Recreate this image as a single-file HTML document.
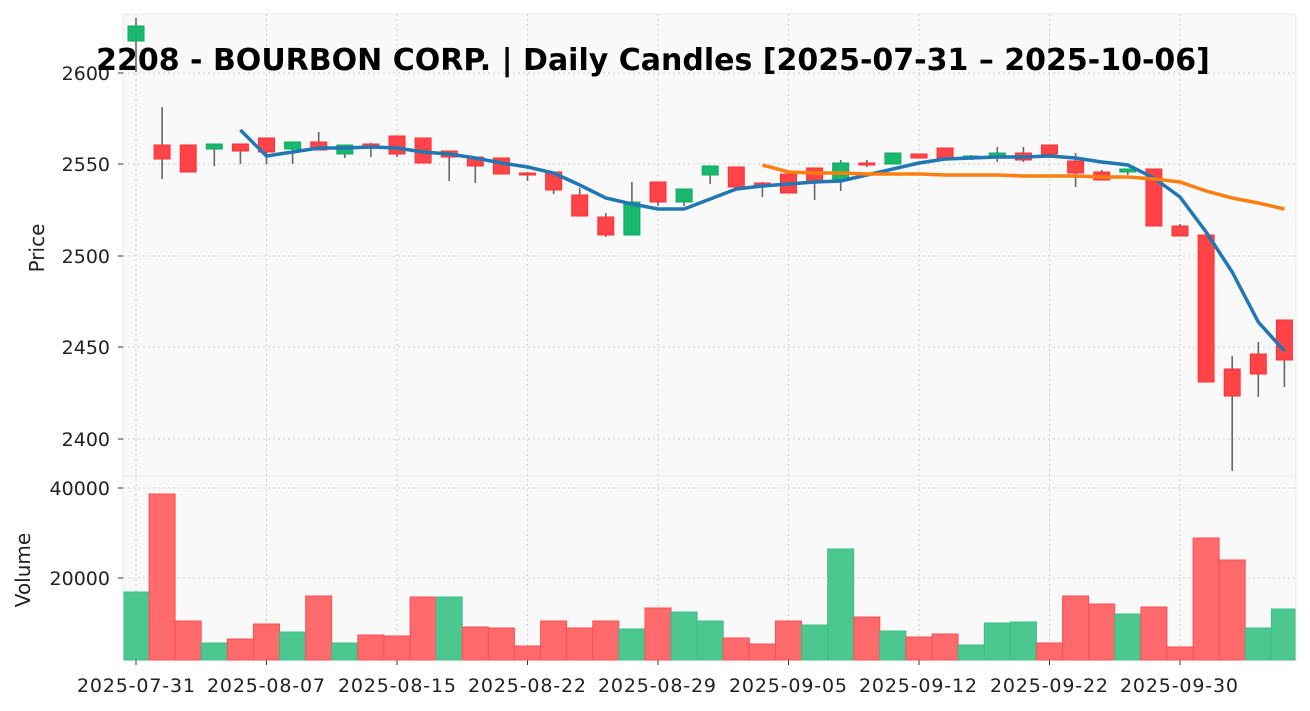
<!DOCTYPE html>
<html><head><meta charset="utf-8"><style>
html,body{margin:0;padding:0;background:#fff}
svg{display:block;font-family:"DejaVu Sans","Liberation Sans",sans-serif}
</style></head><body>
<svg id="s" width="1310" height="711" xmlns="http://www.w3.org/2000/svg">
<rect x="0" y="0" width="1310" height="711" fill="#fff"/>
<rect x="123" y="14" width="1173" height="462" fill="#f9f9f9" stroke="#ebebeb"/>
<rect x="123" y="476" width="1173" height="184" fill="#f9f9f9" stroke="#ebebeb"/>
<g id="grid" stroke="#cfcfcf" stroke-dasharray="2,3" stroke-width="1"></g>
<g id="vol"></g>
<g id="cdl"></g>
<polyline id="ma1" fill="none" stroke="#1f77b4" stroke-width="3.5"/>
<polyline id="ma2" fill="none" stroke="#ff7f0e" stroke-width="3.5"/>
<g font-size="19" fill="#222" text-anchor="end">
<text x="110" y="80">2600</text><text x="110" y="171">2550</text><text x="110" y="263">2500</text><text x="110" y="354">2450</text><text x="110" y="446">2400</text>
<text x="110" y="495">40000</text><text x="110" y="585">20000</text>
</g>
<g font-size="19" fill="#222" text-anchor="middle">
<text x="136" y="692" textLength="118">2025-07-31</text><text x="266" y="692" textLength="118">2025-08-07</text><text x="397" y="692" textLength="118">2025-08-15</text><text x="527" y="692" textLength="118">2025-08-22</text><text x="657" y="692" textLength="118">2025-08-29</text><text x="788" y="692" textLength="118">2025-09-05</text><text x="918" y="692" textLength="118">2025-09-12</text><text x="1049" y="692" textLength="118">2025-09-22</text><text x="1179" y="692" textLength="118">2025-09-30</text>
</g>
<text x="44" y="248" font-size="20" fill="#222" text-anchor="middle" transform="rotate(-90 44 248)">Price</text>
<text x="30" y="570" font-size="20" fill="#222" text-anchor="middle" transform="rotate(-90 30 570)">Volume</text>
<text x="653" y="70" font-size="30" font-weight="bold" fill="#000" text-anchor="middle">2208 - BOURBON CORP. | Daily Candles [2025-07-31 – 2025-10-06]</text>
</svg>
<script>
var X=function(i){return 136+26.1*i};
var ns="http://www.w3.org/2000/svg";
function el(p,t,a){var e=document.createElementNS(ns,t);for(var k in a)e.setAttribute(k,a[k]);document.getElementById(p).appendChild(e);}
[73,164,256,347,439].forEach(function(y){el("grid","line",{x1:123,x2:1296,y1:y,y2:y})});
[488,578].forEach(function(y){el("grid","line",{x1:123,x2:1296,y1:y,y2:y})});
[0,5,10,15,20,25,30,35,40].forEach(function(i){var x=X(i);el("grid","line",{x1:x,x2:x,y1:14,y2:660});el("grid","line",{x1:x,x2:x,y1:660,y2:665,stroke:"#333","stroke-dasharray":"none"});});
[73,164,256,347,439,488,578].forEach(function(y){el("grid","line",{x1:118,x2:123,y1:y,y2:y,stroke:"#333","stroke-dasharray":"none"})});
var C=[["g",26,41,18,72],["r",145,159,107,179],["r",145,172,145,172],["g",144,149,144,166],["r",144,151,144,164],["r",138,152,138,164],["g",142,149,142,164],["r",142,150,132,150],["g",145,154,145,158],["r",144,146,143,157],
["r",136,154,136,157],["r",138,163,138,163],["r",151,157,151,181],["r",157,166,157,183],["r",158,174,158,174],["r",173,175,172,181],["r",172,190,172,194],["r",195,216,188,216],["r",217,235,213,237],["g",202,235,182,235],
["r",182,202,182,206],["g",189,202,189,206],["g",166,175,166,184],["r",167,187,167,187],["r",183,186,182,197],["r",174,193,174,193],["r",168,182,168,200],["g",163,180,160,191],["r",163,165,160,167],["g",153,164,153,164],
["r",154,158,154,158],["r",148,158,148,158],["g",156,158,155,160],["g",153,157,147,162],["r",153,160,147,162],["r",145,154,145,154],["r",161,173,153,187],["r",172,180,170,180],["g",169,172,169,175],["r",169,226,169,226],
["r",226,236,224,236],["r",235,382,235,382],["r",369,396,356,471],["r",354,374,342,397],["r",320,360,320,387]];
C.forEach(function(c,i){var x=X(i),f=c[0]=="g"?"#18b86e":"#ff4447",s=c[0]=="g"?"#0fa860":"#ff3034";
el("cdl","line",{x1:x,x2:x,y1:c[3],y2:c[4],stroke:"#666","stroke-width":1.6});
el("cdl","rect",{x:x-8,y:c[1],width:16,height:Math.max(c[2]-c[1],2),fill:f,stroke:s,"stroke-width":1});});
var V=[592,494,621,643,639,624,632,596,643,635,636,597,597,627,628,646,621,628,621,629,608,612,621,638,644,621,625,549,617,631,637,634,645,623,622,643,596,604,614,607,647,538,560,628,609];
var VC="grrgrrgrgrrrgrrrrrrgrggrrrggrgrrgggrrrgrrrrgg";
V.forEach(function(t,i){var x=X(i),g=VC[i]=="g";var x0=Math.max(x-13,124),x1=Math.min(x+13,1295);el("vol","rect",{x:x0,y:t,width:x1-x0,height:660-t,fill:g?"#4cc790":"#ff6b6d",stroke:g?"#3cbf85":"#ff4d50","stroke-width":1});});
var M1=[130,156,152,148,148,147,148,152,154,158,163,167,173,185,198,204,209,209,199,189,186,184,182,181,175,169,163,159,158,157,157,156,158,162,165,178,197,232,272,322,351];
document.getElementById("ma1").setAttribute("points",M1.map(function(y,k){return X(k+4)+","+y}).join(" "));
var M2=[165,172,173,173,174,174,174,175,175,175,176,176,176,177,177,179,182,191,198,203,209];
document.getElementById("ma2").setAttribute("points",M2.map(function(y,k){return X(k+24)+","+y}).join(" "));
</script>
</body></html>
